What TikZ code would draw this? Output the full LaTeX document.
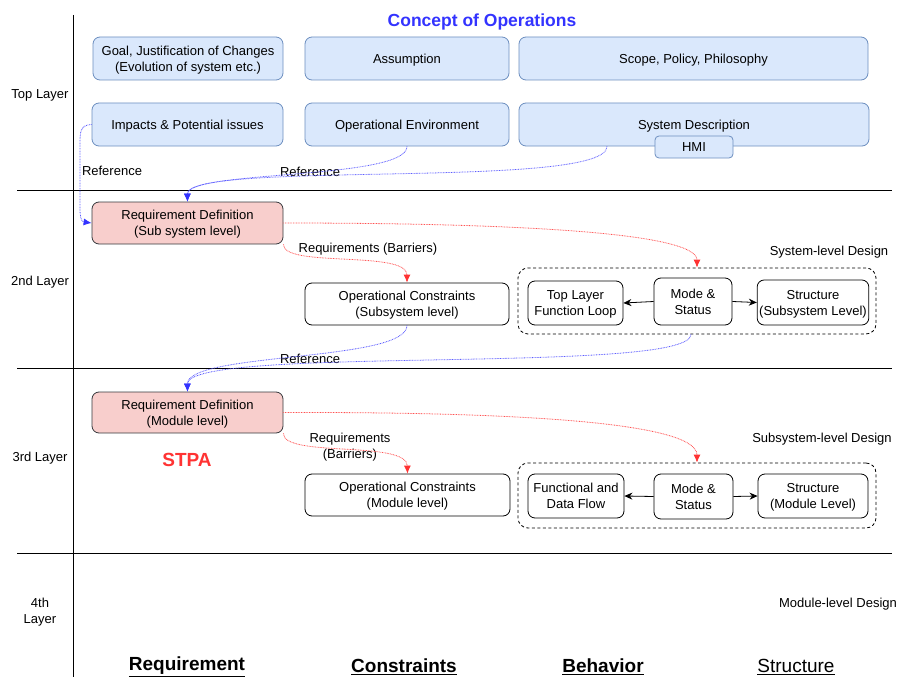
\documentclass[tikz,border=0pt]{standalone}
\usepackage{fontspec}
\setmainfont{Liberation Sans}
\usepackage{tikz}
\usetikzlibrary{arrows.meta}
\definecolor{conlight}{HTML}{DAE8FC}
\definecolor{conline}{HTML}{6C8EBF}
\definecolor{reqlight}{HTML}{F8CECC}
\definecolor{reqline}{HTML}{36393D}
\definecolor{refblue}{HTML}{3333FF}
\definecolor{barred}{HTML}{FF3333}

\tikzset{
  basebox/.style={rounded corners=7pt, line width=0.8pt, align=center, inner sep=2pt, text depth=-4pt},
  conbox/.style={basebox, draw=conline, fill=conlight},
  reqbox/.style={basebox, draw=reqline, fill=reqlight},
  plainbox/.style={basebox, draw=black, fill=white},
  designframe/.style={draw, line width=0.8pt, dash pattern=on 3pt off 2.5pt, rounded corners=10pt},
  refline/.style={draw=refblue!80, line width=0.8pt, dash pattern=on 0.8pt off 0.8pt, -{Latex[length=8pt,width=7pt,color=refblue]}},
  barline/.style={draw=barred!85, line width=0.8pt, dash pattern=on 0.8pt off 0.8pt, -{Latex[length=8pt,width=7pt,color=barred]}},
  flowarrow/.style={draw=black, line width=0.8pt, -{Stealth[length=8pt,width=7pt]}},
  gridline/.style={draw=black, line width=0.9pt}
}

\begin{document}
\begin{tikzpicture}[x=1pt, y=-1pt, font=\fontsize{13}{16}\selectfont]
\useasboundingbox (0,0) rectangle (898,677);

\draw[gridline] (73,15) -- (73,677);
\draw[gridline] (17,190) -- (892,190);
\draw[gridline] (17,368) -- (892,368);
\draw[gridline] (17,553) -- (892,553);

\node (toplayer) at (40,95) {Top Layer};
\node (secondlayer) at (40,282) {2nd Layer};
\node (thirdlayer) at (40,458) {3rd Layer};
\node[align=center] (fourthlayer) at (40,612) {4th\\Layer};

\node[text=refblue, font=\bfseries\fontsize{17.5}{20}\selectfont] (title) at (482,22) {Concept of Operations};

\node[conbox, minimum width=190pt, minimum height=43pt] (goal) at (188,58.5) {Goal, Justification of Changes\\(Evolution of system etc.)};
\node[conbox, minimum width=204pt, minimum height=43pt] (assump) at (407,58.5) {Assumption};
\node[conbox, minimum width=349pt, minimum height=43pt] (scope) at (693.5,58.5) {Scope, Policy, Philosophy};
\node[conbox, minimum width=191pt, minimum height=43pt] (impacts) at (187.5,124.5) {Impacts \& Potential issues};
\node[conbox, minimum width=204pt, minimum height=43pt] (openv) at (407,124.5) {Operational Environment};
\node[conbox, minimum width=350pt, minimum height=43pt] (sysdesc) at (694,124.5) {System Description};
\node[conbox, rounded corners=4pt, minimum width=78pt, minimum height=22pt] (hmi) at (694,147) {HMI};

\node[reqbox, minimum width=191pt, minimum height=42pt] (reqsub) at (187.5,223) {Requirement Definition\\(Sub system level)};
\node[plainbox, minimum width=204pt, minimum height=42pt] (opcsub) at (407,304) {Operational Constraints\\(Subsystem level)};
\node[designframe, minimum width=358pt, minimum height=66pt] (frameA) at (697,301) {};
\node[plainbox, minimum width=95pt, minimum height=44pt] (loopA) at (575.5,303) {Top Layer\\Function Loop};
\node[plainbox, minimum width=78pt, minimum height=47pt] (modeA) at (693,301.5) {Mode \&\\Status};
\node[plainbox, minimum width=110pt, minimum height=45pt] (structA) at (813,302.5) {Structure\\(Subsystem Level)};
\node (sysdesign) at (829,252) {System-level Design};

\node[reqbox, minimum width=191pt, minimum height=41pt] (reqmod) at (187.5,412.5) {Requirement Definition\\(Module level)};
\node[text=barred, font=\bfseries\fontsize{19}{22}\selectfont] (stpa) at (187,460) {STPA};
\node[plainbox, minimum width=205pt, minimum height=42pt] (opcmod) at (407.5,495) {Operational Constraints\\(Module level)};
\node[designframe, minimum width=358pt, minimum height=65pt] (frameB) at (697,495.5) {};
\node[plainbox, minimum width=96pt, minimum height=44pt] (flowB) at (576,496) {Functional and\\Data Flow};
\node[plainbox, minimum width=79pt, minimum height=45pt] (modeB) at (693.5,496.5) {Mode \&\\Status};
\node[plainbox, minimum width=110pt, minimum height=44pt] (structB) at (813,496) {Structure\\(Module Level)};
\node (subdesign) at (822,439) {Subsystem-level Design};
\node (moddesign) at (838,604) {Module-level Design};

\node (refa) at (112,171) {Reference};
\node (refb) at (310,172) {Reference};
\node (refc) at (310,359) {Reference};
\node (bara) at (368,249) {Requirements (Barriers)};
\node[align=center] (barb) at (350,447) {Requirements\\(Barriers)};

\node[font=\bfseries\fontsize{19}{22}\selectfont] (colreq) at (187,667) {\underline{Requirement}};
\node[font=\bfseries\fontsize{19}{22}\selectfont] (colcon) at (404,667) {\underline{Constraints}};
\node[font=\bfseries\fontsize{19}{22}\selectfont] (colbeh) at (603,667) {\underline{Behavior}};
\node[font=\fontsize{19}{22}\selectfont] (colstr) at (796,667) {\underline{Structure}};

\draw[refline] (impacts.west) .. controls (80,125) and (80,132) .. (80,145) -- (80,210) .. controls (80,222) and (84,222) .. (reqsub.west);
\draw[refline] (openv.south) .. controls (407,180) and (187,170) .. (reqsub.north);
\draw[refline] ([xshift=-87pt]sysdesc.south) .. controls (607,190) and (187,160) .. (reqsub.north);
\draw[barline] (reqsub.east) .. controls (480,223) and (697,230) .. (frameA.north);
\draw[barline] (reqsub.south east) .. controls (283,268) and (407,250) .. (opcsub.north);
\draw[flowarrow] (modeA.west) -- (loopA.east);
\draw[flowarrow] (modeA.east) -- (structA.west);

\draw[refline] (opcsub.south) .. controls (407,362) and (187,352) .. (reqmod.north);
\draw[refline] ([xshift=-6pt]frameA.south) .. controls (691,375) and (187,345) .. (reqmod.north);
\draw[barline] (reqmod.east) .. controls (480,412) and (697,419) .. (frameB.north);
\draw[barline] (reqmod.south east) .. controls (283,458) and (407,440) .. (opcmod.north);
\draw[flowarrow] (modeB.west) -- (flowB.east);
\draw[flowarrow] (modeB.east) -- (structB.west);
\end{tikzpicture}
\end{document}
